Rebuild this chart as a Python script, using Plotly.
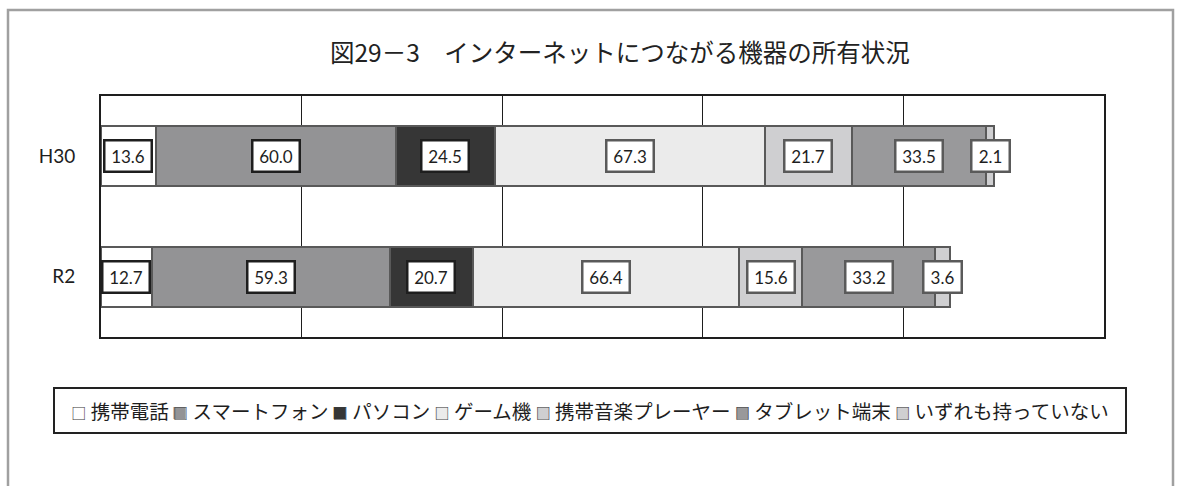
import plotly.graph_objects as go

# --- data -------------------------------------------------------------
categories = ["H30", "R2"]
devices = ["携帯電話", "スマートフォン", "パソコン", "ゲーム機",
           "携帯音楽プレーヤー", "タブレット端末", "いずれも持っていない"]
h30_values = [13.6, 60.0, 24.5, 67.3, 21.7, 33.5, 2.1]
r2_values = [12.7, 59.3, 20.7, 66.4, 15.6, 33.2, 3.6]

title_text = "図29－3　インターネットにつながる機器の所有状況"

# --- styles -----------------------------------------------------------
fill_colors = ["#FFFFFF", "#939395", "#363636", "#EBEBEB",
               "#CFCFD1", "#99999B", "#CFCFD1"]
label_borders = ["#1E1E1E", "#1E1E1E", "#1E1E1E", "#5A5A5A",
                 "#5A5A5A", "#5A5A5A", "#5A5A5A"]
bar_line = "#595959"

W, H = 1177, 486
L, R, T, B = 101, 73, 96, 149
PW, PH = W - L - R, H - T - B


def px_x(px):
    return (px - L) / PW


def px_y(py):
    return 1 - (py - T) / PH


series = list(zip(*[h30_values, r2_values]))

fig = go.Figure()
for name, vals, color in zip(devices, series, fill_colors):
    fig.add_trace(go.Bar(
        name=name, y=categories, x=list(vals), orientation="h",
        width=0.5, showlegend=False,
        marker=dict(color=color, line=dict(color=bar_line, width=2)),
        hoverinfo="x+name",
    ))

# boxed value labels centred on each segment
annotations = []
for ci, cat in enumerate(categories):
    start = 0.0
    for si, vals in enumerate(series):
        v = vals[ci]
        txt = f"{v:.1f}"
        annotations.append(dict(
            x=start + v / 2, y=cat, xref="x", yref="y",
            text=txt, showarrow=False,
            font=dict(family="Lato, Open Sans, sans-serif", size=17, color="#1E1E1E"),
            bgcolor="#FFFFFF", bordercolor=label_borders[si],
            borderwidth=2.5, borderpad=4, width=9 * len(txt) + 1,
            align="center", xanchor="center", yanchor="middle",
        ))
        start += v

# title
annotations.append(dict(
    x=px_x(620), y=px_y(51), xref="paper", yref="paper",
    text=title_text, showarrow=False,
    font=dict(family="Noto Sans CJK JP", size=24.5, color="#222222"),
    xanchor="center", yanchor="middle",
))

# legend row: coloured key squares underneath, outlines and names on top
key_size = 15
fill_parts, text_parts = [], []
for name, color in zip(devices, fill_colors):
    fill_parts.append(
        f"<span style='font-size:{key_size}px;fill:{color}'>■</span> "
        + "\u3000" * len(name))
    text_parts.append(
        f"<span style='font-size:{key_size}px;fill:#3A3A3A'>□</span> " + name)
legend_fill = " ".join(fill_parts)
legend_text = " ".join(text_parts)

lx, ly = px_x(590), px_y(410.5)
for txt, border in ((legend_fill, 0), (legend_text, 2)):
    annotations.append(dict(
        x=lx, y=ly, xref="paper", yref="paper", text=txt, showarrow=False,
        font=dict(family="Noto Sans CJK JP", size=19.5, color="#1E1E1E"),
        width=1066, height=39, borderpad=2, borderwidth=border,
        bordercolor="#222222" if border else "rgba(0,0,0,0)",
        align="center", valign="middle", xanchor="center", yanchor="middle",
    ))

# outer frame of the figure (open at the bottom)
shapes = [dict(
    type="rect", xref="paper", yref="paper",
    x0=px_x(8), x1=px_x(1173), y0=px_y(520), y1=px_y(10),
    line=dict(color="#A0A0A0", width=2.5), fillcolor="rgba(0,0,0,0)",
    layer="below",
)]

fig.update_layout(
    width=W, height=H,
    margin=dict(l=L, r=R, t=T, b=B),
    barmode="stack",
    paper_bgcolor="#FFFFFF", plot_bgcolor="#FFFFFF",
    annotations=annotations, shapes=shapes,
    showlegend=False,
)
fig.update_xaxes(
    range=[0, 250], dtick=50, showgrid=True, gridcolor="#1E1E1E", gridwidth=1.3,
    showticklabels=False, ticks="", zeroline=False,
    showline=True, linecolor="#1E1E1E", linewidth=2, mirror=True,
)
fig.update_yaxes(
    type="category", range=[1.5, -0.5], showgrid=False, zeroline=False,
    ticks="", ticklabelstandoff=20,
    tickfont=dict(family="Lato, Open Sans, sans-serif", size=19, color="#1E1E1E"),
    showline=True, linecolor="#1E1E1E", linewidth=2, mirror=True,
)

fig.write_html("out.html")
